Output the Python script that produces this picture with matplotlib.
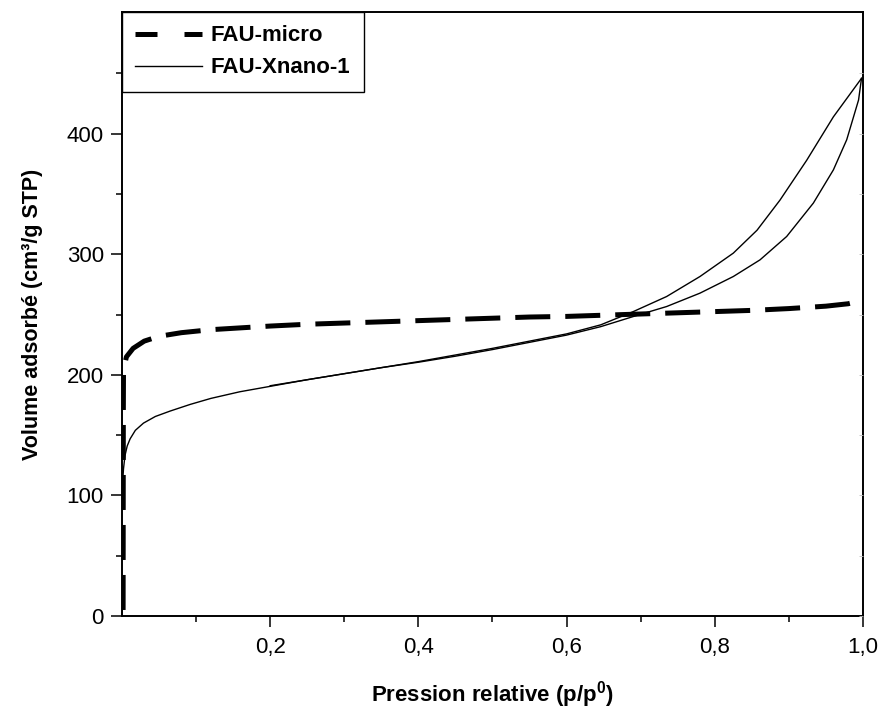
import matplotlib
matplotlib.use('Agg')
import matplotlib.pyplot as plt
from matplotlib.lines import Line2D
from matplotlib.ticker import FixedLocator, FuncFormatter

plt.rcParams['font.family'] = ['Liberation Sans', 'DejaVu Sans']
plt.rcParams['mathtext.fontset'] = 'custom'
plt.rcParams['mathtext.rm'] = 'Liberation Sans'
plt.rcParams['mathtext.bf'] = 'Liberation Sans:bold'

# FAU-micro isotherm (thick dashed)
micro_p = [0.0015, 0.0016, 0.0017, 0.0018, 0.002, 0.003, 0.006, 0.015, 0.03,
           0.05, 0.08, 0.12, 0.16, 0.2, 0.25, 0.3, 0.35, 0.4, 0.45, 0.5,
           0.55, 0.6, 0.65, 0.7, 0.75, 0.8, 0.85, 0.9, 0.95, 0.98, 1.0]
micro_v = [5, 60, 120, 170, 200, 207, 215, 222, 228,
           232, 235, 237.5, 239, 240.5, 242, 243, 244, 245, 246, 247,
           248, 248.5, 249.5, 250.5, 251.5, 252.5, 253.5, 255, 257, 259, 262]

# FAU-Xnano-1 adsorption branch
ads_p = [0.001, 0.002, 0.004, 0.007, 0.011, 0.018, 0.029, 0.045, 0.065, 0.092,
         0.12, 0.159, 0.2, 0.25, 0.3, 0.35, 0.4, 0.45, 0.5, 0.55, 0.6, 0.646,
         0.69, 0.735, 0.78, 0.825, 0.861, 0.897, 0.933, 0.96, 0.978, 0.994, 0.998]
ads_v = [112, 122, 133, 141, 147, 154, 160, 165.5, 170, 175.5,
         180.5, 186, 190.5, 196, 201, 206, 210.5, 215.5, 221, 227, 233, 240,
         248.4, 256.7, 267.8, 281.6, 295.4, 314.8, 342.5, 370, 395, 428, 446]

# FAU-Xnano-1 desorption branch
des_p = [0.998, 0.96, 0.924, 0.888, 0.857, 0.825, 0.78, 0.735, 0.69, 0.646,
         0.6, 0.55, 0.5, 0.45, 0.4, 0.35, 0.3, 0.25, 0.2]
des_v = [446, 414, 378, 345, 320, 301, 281.6, 265, 252.5, 241.5,
         234, 228, 222, 216.5, 211, 206, 201, 196, 191]

x_major = [0.2, 0.4, 0.6, 0.8, 1.0]
x_minor = [0.1, 0.3, 0.5, 0.7, 0.9]
y_major = [0, 100, 200, 300, 400]
y_minor = [50, 150, 250, 350, 450]

fig = plt.figure(figsize=(8.79, 7.11), dpi=100)
ax = fig.add_axes([122 / 879, 95 / 711, 741 / 879, 604 / 711])

ax.plot(micro_p, micro_v, color='black', lw=3.6, dashes=(7, 3),
        solid_capstyle='butt', dash_capstyle='butt')
ax.plot(ads_p, ads_v, color='black', lw=1.0)
ax.plot(des_p, des_v, color='black', lw=1.0)

ax.set_xlim(0, 1.0)
ax.set_ylim(0, 501)

ax.xaxis.set_major_locator(FixedLocator(x_major))
ax.xaxis.set_minor_locator(FixedLocator(x_minor))
ax.yaxis.set_major_locator(FixedLocator(y_major))
ax.yaxis.set_minor_locator(FixedLocator(y_minor))
ax.xaxis.set_major_formatter(FuncFormatter(lambda v, p: f'{v:.1f}'.replace('.', ',')))

for s in ax.spines.values():
    s.set_linewidth(1.4)

ax.tick_params(which='major', direction='out', length=8, width=1.1,
               labelsize=16, pad=5)
ax.tick_params(axis='x', which='major', pad=7)
ax.tick_params(which='minor', direction='out', length=4, width=1.1)

# faint inward ticks on the right spine
ax2 = ax.twinx()
ax2.set_ylim(ax.get_ylim())
ax2.yaxis.set_major_locator(FixedLocator(y_major + y_minor))
ax2.tick_params(direction='in', length=3, width=0.6, colors='0.75',
                labelright=False)
for s in ax2.spines.values():
    s.set_visible(False)

ax.set_xlabel(r'Pression relative (p/p$^{\mathbf{0}}$)', fontsize=16,
              fontweight='bold', labelpad=15)
ax.set_ylabel('Volume adsorbé (cm³/g STP)', fontsize=15.5, fontweight='bold',
              labelpad=17)

h1 = Line2D([], [], color='black', lw=3.6, dashes=(4.4, 5.4),
            dash_capstyle='butt')
h2 = Line2D([], [], color='black', lw=1.0)
leg = ax2.legend([h1, h2], ['FAU-micro', 'FAU-Xnano-1'], loc='upper left',
                 bbox_to_anchor=(0, 1), borderaxespad=0, fancybox=False,
                 frameon=True, edgecolor='black', framealpha=1,
                 prop={'weight': 'bold', 'size': 16},
                 handlelength=3.0, handletextpad=0.4, borderpad=0.6,
                 labelspacing=0.5)
leg.get_frame().set_linewidth(1.0)

fig.savefig('out.png', dpi=100)
